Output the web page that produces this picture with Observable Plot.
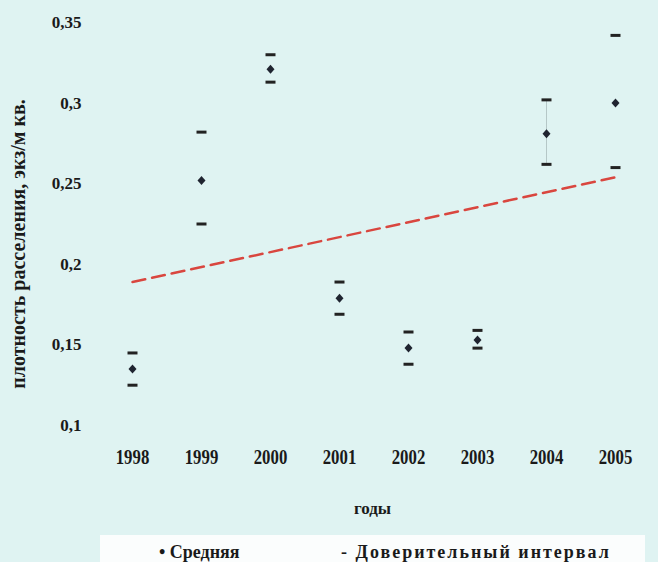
<!DOCTYPE html>
<html>
<head>
<meta charset="utf-8">
<script src="https://cdn.jsdelivr.net/npm/d3@7"></script>
<script src="https://cdn.jsdelivr.net/npm/@observablehq/plot@0.6"></script>
<style>
  html, body { margin: 0; padding: 0; background: #dff3f2; }
  body { width: 658px; height: 562px; overflow: hidden; position: relative; font-family: "Liberation Serif", serif; }
  #chart svg { display: block; }
  #legend { position: absolute; left: 100px; top: 535px; width: 545px; height: 27px; background: #fbfdfd;
    font: bold 18px/18px "Liberation Serif", serif; color: #1a1a1a; }
  #legend span { position: absolute; top: 8px; white-space: nowrap; }
</style>
</head>
<body>
<div id="chart"></div>
<div id="legend"><span style="left:59px">• Средняя</span><span style="left:241px; letter-spacing:2px">- Доверительный интервал</span></div>
<script>
const years = ["1998","1999","2000","2001","2002","2003","2004","2005"];
const means = [0.135, 0.252, 0.321, 0.179, 0.148, 0.153, 0.281, 0.300];
const upper = [0.145, 0.282, 0.330, 0.189, 0.158, 0.159, 0.302, 0.342];
const lower = [0.125, 0.225, 0.313, 0.169, 0.138, 0.148, 0.262, 0.260];
const trendYears = ["1998", "2005"];
const trendValues = [0.189, 0.254];
const yTicks = [0.1, 0.15, 0.2, 0.25, 0.3, 0.35];
const yTickLabels = ["0,1", "0,15", "0,2", "0,25", "0,3", "0,35"];
const yTitle = "плотность расселения, экз/м кв.";
const xTitle = "годы";

const meanData = years.map((y, i) => ({year: y, v: means[i]}));
const ciData = years.flatMap((y, i) => [{year: y, v: upper[i]}, {year: y, v: lower[i]}]);
const trendData = trendYears.map((y, i) => ({year: y, v: trendValues[i]}));

const dashSymbol = { draw(ctx) { ctx.rect(-5, -1.5, 10, 3); } };
const diamondSymbol = { draw(ctx) { ctx.moveTo(0, -4.5); ctx.lineTo(4, 0); ctx.lineTo(0, 4.5); ctx.lineTo(-4, 0); ctx.closePath(); } };

const chart = Plot.plot({
  width: 658,
  height: 530,
  marginLeft: 131,
  marginRight: 43,
  marginTop: 22,
  marginBottom: 105,
  style: { background: "transparent", fontFamily: "Liberation Serif, serif", color: "#1a1a1a" },
  x: { type: "point", domain: years, padding: 0 },
  y: { domain: [0.1, 0.35] },
  marks: [
    Plot.ruleY([0.1], { x1: "1998", x2: "2005", insetLeft: -36, insetRight: -30, stroke: "#c8dcdc", strokeDasharray: "3,2", strokeWidth: 1 }),
    Plot.axisY({ ticks: yTicks, tickFormat: (d) => yTickLabels[yTicks.indexOf(d)], tickSize: 0, tickPadding: 50, fontSize: 17, fontWeight: "bold", label: null }),
    Plot.text([yTitle], { frameAnchor: "left", textAnchor: "middle", rotate: -90, dx: -113, dy: 20, fontSize: 20, fontWeight: "bold", fill: "#1a1a1a" }),
    Plot.axisX({ tickSize: 0, tickPadding: 24, fontSize: 21, fontWeight: "bold", label: null }),
    Plot.text([xTitle], { frameAnchor: "bottom", dx: -1, dy: 88, fontSize: 17, fontWeight: "bold", fill: "#1a1a1a" }),
    Plot.line(trendData, { x: "year", y: "v", stroke: "#d9463f", strokeWidth: 2.5, strokeDasharray: "13,7" }),
    Plot.ruleX(["2004"], { y1: lower[6], y2: upper[6], stroke: "#9aa", strokeWidth: 0.6 }),
    Plot.dot(ciData, { x: "year", y: "v", symbol: dashSymbol, fill: "#222", stroke: null }),
    Plot.dot(meanData, { x: "year", y: "v", symbol: diamondSymbol, fill: "#1f2430", stroke: null })
  ]
});
chart.querySelectorAll('g[aria-label="x-axis tick label"] text').forEach((t) => {
  t.setAttribute("transform", (t.getAttribute("transform") || "") + " scale(0.8,1)");
});
document.getElementById("chart").appendChild(chart);
</script>
</body>
</html>
